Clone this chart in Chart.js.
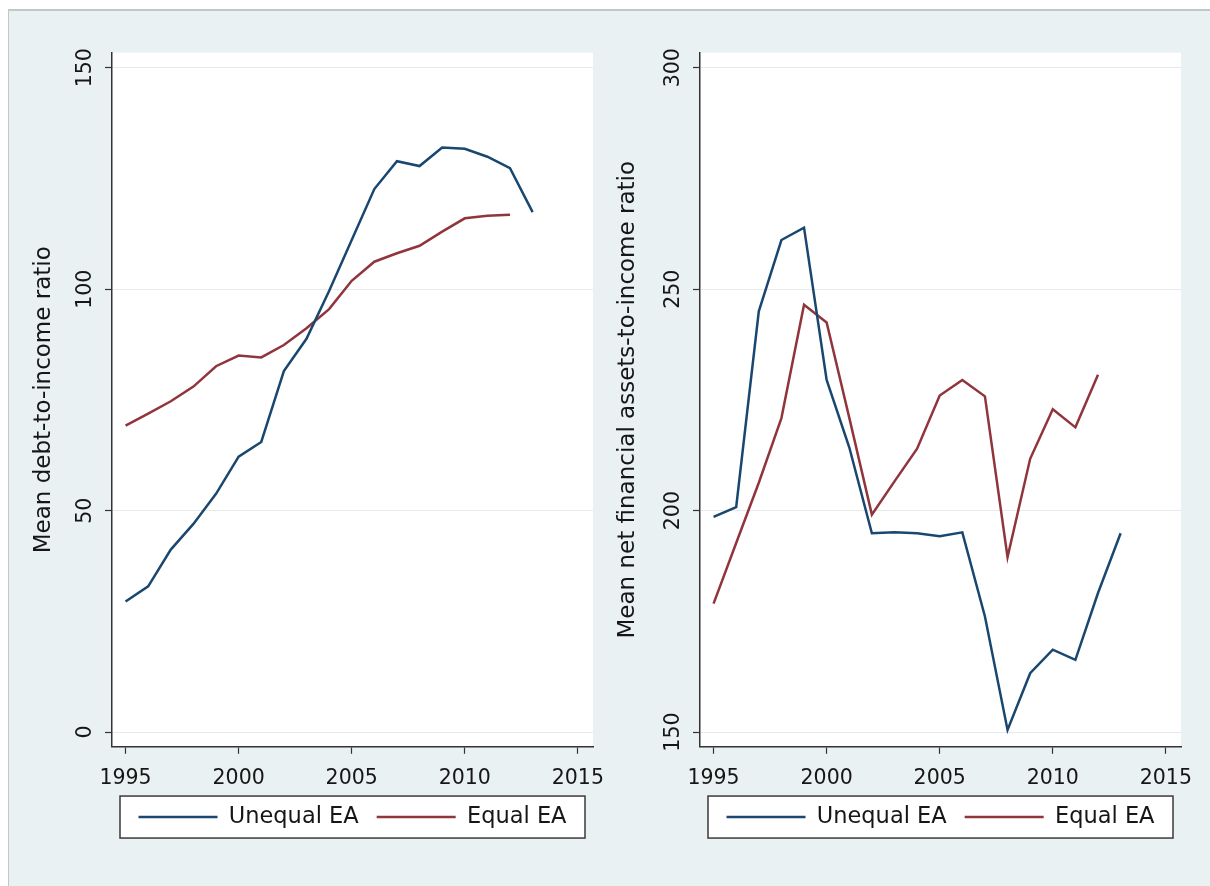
<!DOCTYPE html>
<html>
<head>
<meta charset="utf-8">
<title>Unequal vs equal EA</title>
<script src="https://cdn.jsdelivr.net/npm/chart.js@4.4.1/dist/chart.umd.min.js"></script>
<style>
  html, body { margin: 0; padding: 0; background: #ffffff; overflow: hidden; }
  #frame {
    position: absolute; left: 8px; top: 9px; width: 1220px; height: 900px;
    background: #eaf1f3; border-top: 2px solid #c3c7c8; border-left: 1px solid #c3c7c8;
  }
  .panel { position: absolute; top: 0; }
</style>
</head>
<body>
<div id="frame"></div>
<div class="panel" style="left:0px"><canvas id="debtChart" width="640" height="886"></canvas></div>
<div class="panel" style="left:606px"><canvas id="assetChart" width="604" height="886"></canvas></div>

<script>
// données
const years = [1995, 1996, 1997, 1998, 1999, 2000, 2001, 2002, 2003, 2004,
               2005, 2006, 2007, 2008, 2009, 2010, 2011, 2012, 2013];
const seriesNames = ['Unequal EA', 'Equal EA'];

const debtUnequal = [29.5, 32.9, 41.2, 47.0, 53.8, 62.2, 65.5, 81.5, 88.8, 99.6,
                     111.1, 122.6, 128.9, 127.8, 132.0, 131.7, 129.9, 127.3, 117.4];
const debtEqual = [69.2, 71.9, 74.7, 78.0, 82.6, 85.0, 84.6, 87.4, 91.2, 95.5,
                   101.9, 106.2, 108.1, 109.8, 113.0, 116.0, 116.6, 116.8];

const assetsUnequal = [198.6, 200.8, 245.0, 261.1, 263.9, 229.5, 214.3, 194.9, 195.1, 194.9,
                       194.2, 195.1, 176.1, 150.5, 163.3, 168.6, 166.3, 181.4, 194.9];
const assetsEqual = [179.0, 192.7, 206.3, 220.9, 246.5, 242.5, 221.0, 199.1, 206.6, 214.0,
                     226.0, 229.5, 225.8, 189.5, 211.7, 222.9, 218.8, 230.7];

const yearTicks = [1995, 2000, 2005, 2010, 2015];
const debtTicks = [0, 50, 100, 150];
const assetTicks = [150, 200, 250, 300];

const blue = '#1a476f';
const red = '#90353b';

Chart.defaults.font.family = 'DejaVu Sans';
Chart.defaults.color = '#161616';

// fond blanc de la zone de tracé + cadre de la légende
const plotFrame = {
    id: 'plotFrame',
    beforeDraw(chart) {
        const { ctx, chartArea: a, legend } = chart;
        ctx.save();
        ctx.fillStyle = '#ffffff';
        ctx.fillRect(a.left, a.top, a.right - a.left, a.bottom - a.top);
        const hb = legend.legendHitBoxes[0];
        const cy = hb.top + hb.height / 2;
        ctx.fillRect(a.left + 8, cy - 21, a.right - a.left - 16, 42);
        ctx.strokeStyle = '#3a3a3a';
        ctx.lineWidth = 1.5;
        ctx.strokeRect(a.left + 8, cy - 21, a.right - a.left - 16, 42);
        ctx.restore();
    }
};

function points(values) {
    return values.map((v, i) => ({ x: years[i], y: v }));
}

function makePanel(id, unequal, equal, yTicks, yMin, yMax, title, axisWidth, titlePad, padRight) {
    const ctx = document.getElementById(id).getContext('2d');
    return new Chart(ctx, {
        type: 'line',
        data: {
            datasets: [
                { label: seriesNames[0], data: points(unequal), borderColor: blue, backgroundColor: blue, borderWidth: 2.5 },
                { label: seriesNames[1], data: points(equal), borderColor: red, backgroundColor: red, borderWidth: 2.5 }
            ]
        },
        options: {
            responsive: false,
            animation: false,
            events: [],
            elements: {
                line: { tension: 0 },
                point: { radius: 0 }
            },
            layout: { padding: { left: 0, right: padRight, top: 52.7, bottom: 47.7 } },
            scales: {
                x: {
                    type: 'linear',
                    min: 1994.4,
                    max: 2015.67,
                    afterBuildTicks: s => { s.ticks = yearTicks.map(v => ({ value: v })); },
                    afterFit: s => { s.height = 41; },
                    grid: { drawOnChartArea: false, drawTicks: true, tickLength: 7, tickColor: '#333', tickWidth: 1.2 },
                    border: { color: '#333', width: 1.5 },
                    ticks: { font: { size: 20.5 }, padding: 13, color: '#161616', callback: v => String(v) }
                },
                y: {
                    type: 'linear',
                    min: yMin,
                    max: yMax,
                    afterBuildTicks: s => { s.ticks = yTicks.map(v => ({ value: v })); },
                    afterFit: s => { s.width = axisWidth; },
                    grid: { color: '#e3ebed', lineWidth: 1, drawTicks: true, tickLength: 7, tickColor: '#333', tickWidth: 1.2 },
                    border: { color: '#333', width: 1.5 },
                    ticks: { font: { size: 20.5 }, padding: 0, minRotation: 90, maxRotation: 90, crossAlign: 'center', color: '#161616' },
                    title: { display: true, text: title, font: { size: 23 }, padding: titlePad, color: '#161616' }
                }
            },
            plugins: {
                legend: {
                    position: 'bottom',
                    fullSize: false,
                    labels: {
                        usePointStyle: true,
                        pointStyle: 'line',
                        pointStyleWidth: 79,
                        font: { size: 22.5 },
                        padding: 18,
                        color: '#161616'
                    }
                },
                tooltip: { enabled: false }
            }
        },
        plugins: [plotFrame]
    });
}

makePanel('debtChart', debtUnequal, debtEqual, debtTicks, -3.32, 153.39,
          'Mean debt-to-income ratio', 112, 30, 47);
makePanel('assetChart', assetsUnequal, assetsEqual, assetTicks, 146.68, 303.39,
          'Mean net financial assets-to-income ratio', 94, 8, 29);
</script>
</body>
</html>
